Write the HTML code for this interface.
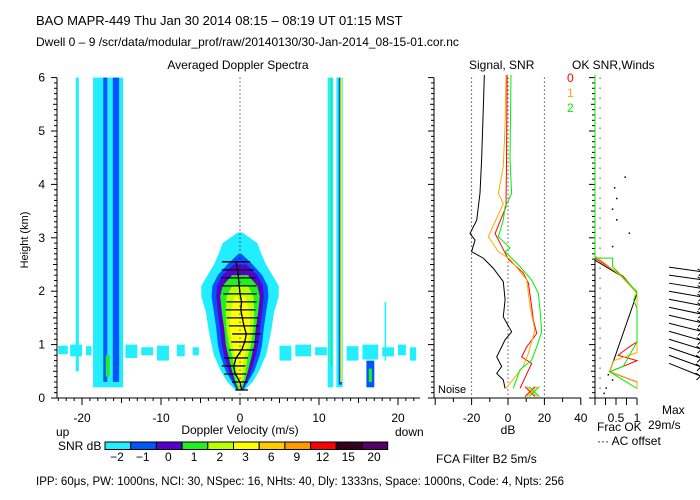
<!DOCTYPE html>
<html><head><meta charset="utf-8"><style>
body{margin:0;background:#fff}
svg{display:block;font-family:"Liberation Sans",sans-serif}
text{font-size:12px;fill:#000}
</style></head><body>
<svg id="c" width="700" height="500" xmlns="http://www.w3.org/2000/svg">
<text x="36" y="25" style="font-size:13px">BAO   MAPR-449   Thu Jan 30 2014 08:15  –  08:19 UT 01:15 MST</text>
<text x="36" y="46">Dwell   0  –   9    /scr/data/modular_prof/raw/20140130/30-Jan-2014_08-15-01.cor.nc</text>
<text x="238" y="69" text-anchor="middle">Averaged Doppler Spectra</text>
<text x="469" y="69">Signal, SNR</text>
<text x="572" y="69">OK SNR,Winds</text>
<text x="28" y="240" transform="rotate(-90 28 240)" text-anchor="middle" style="font-size:11px">Height (km)</text>
<text x="240" y="434" text-anchor="middle">Doppler Velocity (m/s)</text>
<text x="56" y="436">up</text>
<text x="395" y="436">down</text>
<text x="508" y="434" text-anchor="middle">dB</text>
<text x="597" y="431">Frac OK</text>
<text x="597" y="445">··· AC offset</text>
<text x="662" y="414">Max</text>
<text x="648" y="429">29m/s</text>
<text x="58" y="450">SNR dB</text>
<text x="436" y="463">FCA Filter B2   5m/s</text>
<text x="36" y="485" style="font-size:11.5px">IPP:  60μs,  PW: 1000ns,  NCI:  30,  NSpec: 16, NHts: 40,  Dly: 1333ns,  Space: 1000ns,  Code: 4,  Npts: 256</text>
<g id="g"></g>
</svg>
<script>
// ---- data ----
const levelColors=["#22eeff","#0055ff","#5500cc","#22ee22","#bbff00","#ffff00","#ffcc00","#ff9900","#ff0000","#330022","#550066"];
const levelLabels=["−2","−1","0","1","2","3","6","9","12","15","20"];
// vertical spectral bands: [vmin, vmax, hmin, hmax, level]
const bandV0=[-20.8,-18.6,-17.3,-16.1,-17.0,11.1,11.5,12.2,12.5,12.7,16.0,16.3,18.3];
const bandV1=[-20.4,-14.8,-16.8,-15.3,-16.5,11.8,11.6,13.0,12.9,12.9,17.0,16.7,18.5];
const bandH0=[0.5,0.2,0.3,0.3,0.4,0.2,0.6,0.2,0.25,0.3,0.2,0.3,0.7];
const bandH1=[6.0,6.0,6.0,6.0,0.8,6.0,6.0,6.0,6.0,6.0,0.7,0.55,1.8];
const bandLv=[0,0,1,1,3,0,3,0,1,5,1,3,0];
// noise patches near 0.9 km: velocity start, end, bottom, top
const noiseV0=[-23,-21.5,-19.5,-14.5,-12.5,-10.5,-8,-6,5,7,9.5,13.5,15.5,18,20,21.5];
const noiseV1=[-21.8,-20,-18.8,-13,-11,-9,-7,-5.2,6.5,9,11,15,17.5,19.5,21,22.3];
const noiseH0=[0.82,0.78,0.8,0.75,0.8,0.7,0.78,0.8,0.7,0.78,0.8,0.7,0.72,0.78,0.8,0.7];
const noiseH1=[0.98,1.0,0.97,1.0,0.95,0.98,1.0,0.95,0.98,1.0,0.95,0.97,1.0,0.95,1.0,0.95];
// central echo profile
const blobH=[0.15,0.3,0.5,0.8,1.0,1.3,1.6,1.9,2.1,2.3,2.5,2.7,2.9,3.1];
const blobHW=[
 [0.6,1.6,2.4,3.3,3.6,4.0,4.3,4.9,4.9,4.1,3.3,2.7,2.2,0.3],
 [0.4,1.0,1.8,2.5,2.8,3.0,3.3,3.6,3.5,2.8,1.6,0.2,0,0],
 [0.3,0.8,1.4,2.0,2.3,2.5,2.8,3.0,2.9,2.2,0.8,0,0,0],
 [0.2,0.6,1.0,1.5,1.8,2.0,2.3,2.5,2.2,1.0,0,0,0,0],
 [0,0.4,0.7,1.0,1.4,1.7,1.8,1.7,1.0,0,0,0,0,0],
 [0,0,0.3,0.6,1.0,1.3,1.2,0.7,0,0,0,0,0,0]];
// mean velocity / width per gate
const gateH=[0.15,0.3,0.45,0.6,0.75,0.9,1.05,1.2,1.35,1.5,1.65,1.8,1.95,2.1,2.25,2.4,2.55];
const meanV=[0.2,0.0,-0.6,-0.8,-0.5,0.2,0.6,0.8,0.5,0.3,0.1,0.2,0.0,-0.1,-0.2,-0.3,-0.5];
const widthV=[0.8,1.0,1.4,1.5,1.5,1.6,1.7,1.8,1.9,2.0,1.9,1.9,2.1,2.2,2.2,2.0,1.8];
// signal / SNR profiles (dB vs km)
const sigH=[6.05,5.39,4.46,3.83,3.33,3.08,2.96,2.74,2.62,2.43,2.18,1.84,1.52,1.24,1.09,0.77,0.59,0.46,0.34,0.18];
const sigDB=[-13.0,-13.6,-14.5,-15.4,-17.2,-20.9,-18.1,-20,-13.6,-8.1,-2.6,-1.6,-2.6,2.0,-1.6,-6.2,-3.5,-6.2,-2.6,-1.6];
const snr0H=[6.05,4.5,3.58,3.08,2.81,2.6,2.34,2.15,1.71,1.46,1.21,0.96,0.77,0.65,0.18];
const snr0DB=[-0.5,-0.8,-1.1,-7.1,-3.0,0.2,8.4,11.2,13.0,13.9,15.8,10.3,7.5,13.0,6.6];
const snr1H=[6.05,5.1,4.33,3.83,3.64,3.02,2.74,2.6,2.21,1.71,1.27,0.84,0.59,0.18];
const snr1DB=[-1.1,-1.6,-2.6,-5.3,-2.6,-10.8,-5.3,1.1,10.3,12.1,14.8,11.2,8.4,-1.1];
const snr2H=[6.05,4.46,3.83,3.7,3.58,3.33,3.02,2.81,2.74,2.46,2.21,1.96,1.65,1.24,0.96,0.71,0.53,0.18];
const snr2DB=[1.65,1.1,2.0,0.2,-1.6,-2.6,-5.3,1.1,-1.6,6.6,13.0,16.7,17.6,18.5,15.8,13.0,6.6,2.9];
// fraction OK profiles
const ok2H=[6.05,2.62,2.62,2.46,1.99,1.83,1.68,1.05,0.59,0.49,0.18];
const ok2F=[0,0,0.42,0.42,1.0,0.92,1.0,1.0,0.67,0.35,1.0];
const ok0H=[2.62,2.28,1.96,1.05,0.95,0.8,0.7,0.49,0.3,0.18];
const ok0F=[0,0.67,1.0,1.0,0.8,0.55,1.0,0.35,1.0,1.0];
const ok1H=[2.66,2.3,1.96,1.05,0.85,0.7,0.49,0.3,0.18];
const ok1F=[0,0.6,1.0,1.0,1.0,0.45,0.35,1.0,1.0];
const okKH=[2.58,2.25,1.96,0.49,0.3,0.18];
const okKF=[0,0.7,1.0,0.35,1.0,1.0];
const acH=[4.15,3.95,3.75,3.55,3.35,3.1,2.85,0.45,0.35,0.2,0.1];
const acF=[0.7,0.45,0.5,0.4,0.5,0.8,0.4,0.3,0.4,0.25,0.2];
// winds
const windH=[2.45,2.3,2.15,2.0,1.85,1.7,1.55,1.4,1.25,1.1,0.95,0.8,0.65];
const windDir=[8,8,9,10,11,12,13,14,16,17,19,20,22];

// ---- axes ----
const yK=h=>398-53.4*h;
const xV=v=>240+7.9*v;
const xD=d=>508+1.82*d;
const xF=f=>595+42*f;
const g=document.getElementById('g');
const NS='http://www.w3.org/2000/svg';
function mk(t,a,p){const e=document.createElementNS(NS,t);for(const k in a)e.setAttribute(k,a[k]);(p||g).appendChild(e);return e;}

// noise patches
for(let i=0;i<noiseV0.length;i++){
 const r=mk('rect',{x:xV(noiseV0[i]),y:yK(noiseH1[i]),width:xV(noiseV1[i])-xV(noiseV0[i]),height:yK(noiseH0[i])-yK(noiseH1[i]),fill:levelColors[0]});
 
 
}
// bands
for(let i=0;i<bandV0.length;i++){
 const r=mk('rect',{x:xV(bandV0[i]),y:yK(bandH1[i]),width:xV(bandV1[i])-xV(bandV0[i]),height:yK(bandH0[i])-yK(bandH1[i]),fill:levelColors[bandLv[i]]});
 
 
}
// central blob
for(let l=0;l<blobHW.length;l++){
 const L=[],R=[];
 for(let i=0;i<blobH.length;i++){if(blobHW[l][i]<=0&&i>0)continue;L.push([xV(-blobHW[l][i]),yK(blobH[i])]);R.unshift([xV(blobHW[l][i]),yK(blobH[i])]);}
 const p=mk('polygon',{points:L.concat(R).map(q=>q.join(',')).join(' '),fill:levelColors[l]});
 
 
}
// zero line
mk('line',{x1:xV(0),y1:yK(6),x2:xV(0),y2:yK(0),stroke:'#000','stroke-dasharray':'1,3'});
// mean velocity marks
let mp=[];
for(let i=0;i<gateH.length;i++){
 const l=mk('line',{x1:xV(meanV[i]-widthV[i]),x2:xV(meanV[i]+widthV[i]),y1:yK(gateH[i]),y2:yK(gateH[i]),stroke:'#000','stroke-width':1.3});
 
 
 mp.push(xV(meanV[i])+','+yK(gateH[i]));
}
const mv=mk('polyline',{points:mp.join(' '),fill:'none',stroke:'#000','stroke-width':1.3});



// axes main
function axisY(x0){mk('line',{x1:x0,y1:yK(6),x2:x0,y2:yK(0),stroke:'#000'});
 for(let i=0;i<=60;i++){const y=yK(i/10);mk('line',{x1:x0-(i%10==0?6:(i%5==0?4:3)),x2:x0,y1:y,y2:y,stroke:'#000'});}}
axisY(57);
for(let h=0;h<=6;h++){const t=mk('text',{x:45,y:yK(h)+4,'text-anchor':'end'});t.textContent=h;}
mk('line',{x1:57,y1:398,x2:420,y2:398,stroke:'#000'});
for(let v=-23;v<=22;v++){const x=xV(v);mk('line',{x1:x,x2:x,y1:398,y2:398+(v%10==0?7:(v%5==0?5:3)),stroke:'#000'});}
for(const v of [-20,-10,0,10,20]){const t=mk('text',{x:xV(v),y:422,'text-anchor':'middle'});t.textContent=v;}

// middle panel
axisY(434);
mk('line',{x1:434,y1:398,x2:581,y2:398,stroke:'#000'});
for(let d=-40;d<=40;d+=10){const x=xD(d);mk('line',{x1:x,x2:x,y1:398,y2:398+(d%20==0?7:4),stroke:'#000'});}
for(const d of [-20,0,20,40]){const t=mk('text',{x:xD(d),y:422,'text-anchor':'middle'});t.textContent=d;
 if(d<40)mk('line',{x1:xD(d),x2:xD(d),y1:yK(6),y2:398,stroke:'#000','stroke-dasharray':'1,3'});}
const nz=mk('text',{x:438,y:393,style:'font-size:11px'});nz.textContent='Noise';
function prof(H,X,fx,col,name){const p=mk('polyline',{points:H.map((h,i)=>fx(X[i])+','+yK(h)).join(' '),fill:'none',stroke:col});
 
 }
prof(sigH,sigDB,xD,'#000','signal-line');
prof(snr0H,snr0DB,xD,'#ff0000','snr-0-line');
prof(snr1H,snr1DB,xD,'#ffaa00','snr-1-line');
prof(snr2H,snr2DB,xD,'#00ee00','snr-2-line');
[['#ff0000',12.1],['#ffaa00',13.3],['#00ee00',14.5]].forEach(c=>{const x=xD(c[1]),y=yK(0.12);
 mk('path',{d:`M${x-5} ${y-5}L${x+5} ${y+5}M${x-5} ${y+5}L${x+5} ${y-5}`,stroke:c[0]});});
[['0','#ff0000',82],['1','#ffaa00',97],['2','#00ee00',112]].forEach(c=>{const t=mk('text',{x:567,y:c[2],style:'fill:'+c[1]});t.textContent=c[0];});

// right panel
axisY(595);
mk('line',{x1:595,y1:398,x2:637,y2:398,stroke:'#000'});
for(let f=0;f<=1;f+=0.25){const x=xF(f);mk('line',{x1:x,x2:x,y1:398,y2:398+7,stroke:'#000'});}
[['0.5',0.5],['1',1]].forEach(c=>{const t=mk('text',{x:xF(c[1]),y:422,'text-anchor':'middle'});t.textContent=c[0];});
mk('line',{x1:xF(0.12),x2:xF(0.12),y1:yK(6),y2:398,stroke:'#000','stroke-dasharray':'1,9'});
prof(okKH,okKF,xF,'#000','ok-signal-line');
prof(ok0H,ok0F,xF,'#ff0000','ok-0-line');
prof(ok1H,ok1F,xF,'#ffaa00','ok-1-line');
prof(ok2H,ok2F,xF,'#00ee00','ok-2-line');
for(let i=0;i<acH.length;i++){const d=mk('rect',{x:xF(acF[i]),y:yK(acH[i]),width:1.5,height:1.5,fill:'#000'});
 
 }
// winds
for(let i=0;i<windH.length;i++){const x0=669,y0=yK(windH[i]),a=windDir[i]*Math.PI/180,L=34;
 const x1=x0+L*Math.cos(a),y1=y0+L*Math.sin(a);
 const w=mk('path',{d:`M${x0} ${y0}L${x1} ${y1}M${x1} ${y1}l-5 -3M${x1} ${y1}l-4 4`,stroke:'#000',fill:'none'});
 
 }

// colorbar
for(let i=0;i<levelColors.length;i++){const x=105+i*25.7;
 const r=mk('rect',{x:x,y:442,width:25.7,height:7.5,fill:levelColors[i],stroke:'#000','stroke-width':1});
 
 
 const t=mk('text',{x:x+12,y:461,'text-anchor':'middle'});t.textContent=levelLabels[i];}
</script>
</body></html>
